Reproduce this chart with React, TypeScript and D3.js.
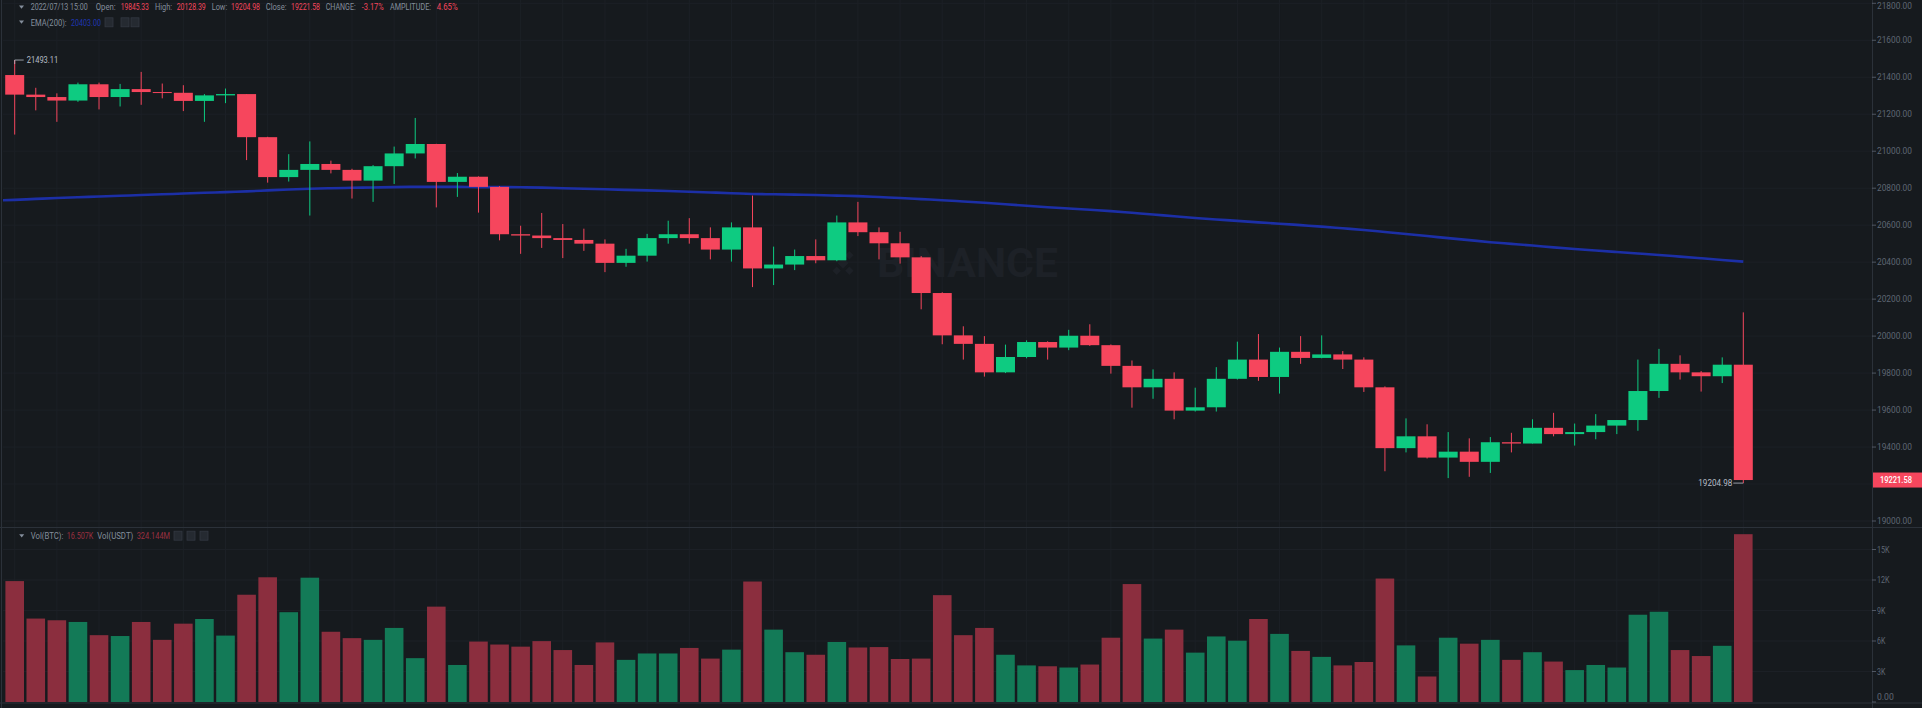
import React from "react";
import * as d3 from "d3";

// 1h candles BTC/USDT
const opens = [
  21412, 21306, 21293, 21274, 21362, 21293, 21336, 21320, 21316, 21272, 21302, 21309, 21076, 20860, 20899, 20931, 20899,
  20841, 20919, 20988, 21039, 20834, 20862, 20807, 20551, 20544, 20530, 20520, 20500, 20396, 20435, 20530, 20551, 20530,
  20468, 20588, 20366, 20387, 20433, 20410, 20615, 20562, 20502, 20426, 20233, 20004, 19958, 19804, 19887, 19968, 19938,
  20002, 19951, 19839, 19723, 19769, 19597, 19615, 19769, 19873, 19779, 19915, 19882, 19901, 19873, 19723, 19394, 19458,
  19343, 19375, 19320, 19426, 19419, 19504, 19470, 19481, 19516, 19546, 19703, 19850, 19804, 19783, 19845.33,
];
const highs = [
  21493.11, 21343, 21313, 21371, 21371, 21364, 21429, 21366, 21357, 21309, 21339, 21309, 21078, 20984, 21053, 20949, 20905,
  20925, 21025, 21180, 21040, 20882, 20864, 20811, 20597, 20666, 20606, 20581, 20523, 20472, 20553, 20624, 20638, 20588,
  20615, 20760, 20484, 20468, 20523, 20652, 20726, 20588, 20564, 20433, 20237, 20053, 20000, 19954, 19977, 19972, 20034,
  20064, 19955, 19868, 19820, 19804, 19721, 19832, 19970, 20011, 19938, 20000, 20004, 19919, 19885, 19728, 19555, 19523,
  19481, 19447, 19454, 19477, 19550, 19585, 19527, 19578, 19546, 19873, 19931, 19896, 19811, 19885, 20128.39,
];
const lows = [
  21090, 21221, 21159, 21267, 21226, 21242, 21251, 21286, 21217, 21159, 21260, 20952, 20830, 20836, 20652, 20880, 20744,
  20726, 20823, 20961, 20696, 20753, 20668, 20518, 20445, 20477, 20422, 20461, 20346, 20375, 20403, 20500, 20500, 20415,
  20403, 20265, 20276, 20357, 20394, 20405, 20541, 20415, 20392, 20145, 19956, 19873, 19781, 19800, 19880, 19873, 19924,
  19947, 19797, 19613, 19661, 19550, 19592, 19592, 19765, 19758, 19689, 19850, 19880, 19822, 19698, 19269, 19371, 19338,
  19232, 19239, 19260, 19371, 19419, 19458, 19408, 19442, 19470, 19488, 19666, 19765, 19700, 19746, 19204.98,
];
const closes = [
  21306, 21293, 21274, 21362, 21293, 21336, 21320, 21316, 21272, 21302, 21309, 21076, 20860, 20899, 20931, 20899, 20841,
  20919, 20988, 21039, 20834, 20862, 20807, 20551, 20544, 20530, 20520, 20500, 20396, 20435, 20530, 20551, 20530, 20468,
  20588, 20366, 20387, 20433, 20410, 20615, 20562, 20502, 20426, 20233, 20004, 19958, 19804, 19887, 19968, 19938, 20002,
  19951, 19839, 19723, 19769, 19597, 19615, 19769, 19873, 19779, 19915, 19882, 19901, 19873, 19723, 19394, 19458, 19343,
  19375, 19320, 19426, 19419, 19504, 19470, 19481, 19516, 19546, 19703, 19850, 19804, 19783, 19845.33, 19221.58,
];
const volumes = [
  11893, 8207, 8040, 7872, 6574, 6490, 7872, 6113, 7705, 8165, 6532, 10552, 12269, 8834, 12227, 6909, 6281, 6113, 7286,
  4312, 9380, 3642, 5946, 5653, 5444, 5988, 5109, 3642, 5862, 4145, 4773, 4773, 5318, 4270, 5151, 11851, 7118, 4898, 4647,
  5904, 5360, 5402, 4229, 4270, 10510, 6574, 7286, 4647, 3600, 3516, 3391, 3684, 6323, 11600, 6239, 7118, 4856, 6448, 6030,
  8165, 6699, 5025, 4438, 3600, 3935, 12143, 5569, 2509, 6323, 5737, 6113, 4145, 4898, 3977, 3139, 3642, 3391, 8584, 8877,
  5109, 4522, 5527, 16507,
];
// EMA(200); first value belongs to the candle just off the left edge
const ema200 = [
  20733, 20737, 20742, 20747, 20751, 20755, 20759, 20763, 20767, 20771, 20775, 20779, 20783, 20788, 20793, 20797, 20800,
  20802, 20804, 20806, 20807, 20807, 20807, 20806, 20806, 20805, 20803, 20800, 20797, 20794, 20791, 20788, 20785, 20781,
  20777, 20773, 20769, 20767, 20765, 20763, 20760, 20757, 20752, 20747, 20741, 20735, 20728, 20721, 20713, 20705, 20697,
  20690, 20683, 20676, 20667, 20658, 20648, 20639, 20631, 20623, 20615, 20608, 20600, 20592, 20583, 20574, 20563, 20552,
  20541, 20530, 20519, 20508, 20499, 20490, 20480, 20471, 20463, 20455, 20447, 20439, 20430, 20421, 20412, 20403,
];
const priceTicks = [19000, 19200, 19400, 19600, 19800, 20000, 20200, 20400, 20600, 20800, 21000, 21200, 21400, 21600, 21800];
const volTicks = [0, 3000, 6000, 9000, 12000, 15000];
const volTickLabels = ["0.00", "3K", "6K", "9K", "12K", "15K"];

const W = 1922;
const H = 708;
const AXIS_X = 1872;
const PANE_SPLIT = 527;
const VOL_BOTTOM = 702;
const SX = 0.68; // the legend font is condensed

const BG = "#161a1e";
const GRID = "#1c2026";
const LINE = "#2b3139";
const UP = "#0ecb81";
const DOWN = "#f6465d";
const VOL_UP = "#137a57";
const VOL_DOWN = "#8b2e3e";
const TEXT = "#848e9c";
const AXIS_TEXT = "#5e6673";
const FONT = "Roboto, 'Noto Sans', sans-serif";

const x = d3.scaleLinear().domain([0, closes.length - 1]).range([14.7, 1743.3]);
const y = d3.scaleLinear().domain([19000, 21800]).range([521, 3.3]);
const vy = d3.scaleLinear().domain([0, 15000]).range([VOL_BOTTOM, 549.5]);

// condensed text: squeezed horizontally so it fits the narrow legend font
const CText = ({ x: tx, y: ty, len, fill, size = 9, anchor = "start", weight = 400, children }) => (
  <text
    transform={`translate(${tx},${ty}) scale(${SX},1)`}
    fontSize={size}
    fill={fill}
    fontWeight={weight}
    textAnchor={anchor}
    textLength={len / SX}
    lengthAdjust="spacingAndGlyphs"
  >
    {children}
  </text>
);

const Triangle = ({ cx, cy }) => <path d={`M${cx - 2.5},${cy - 1.5} L${cx + 2.5},${cy - 1.5} L${cx},${cy + 1.8} Z`} fill={TEXT} />;

const Squares = ({ xs, cy }) => (
  <g>
    {xs.map((sx) => (
      <rect key={sx} x={sx} y={cy - 4.5} width={8} height={9} fill="#252a31" stroke="#323842" strokeWidth={0.8} />
    ))}
  </g>
);

export default function App() {
  const lastClose = closes[closes.length - 1];
  const lastIdx = closes.length - 1;
  const hiIdx = highs.indexOf(d3.max(highs));
  const loIdx = lows.indexOf(d3.min(lows));
  const emaLine = d3
    .line()
    .x((d, i) => x(i - 1))
    .y((d) => y(d))
    .curve(d3.curveMonotoneX);

  const header = [
    ["2022/07/13 15:00", TEXT, 30.7, 57],
    ["Open:", TEXT, 95.7, 20],
    [opens[lastIdx].toFixed(2), DOWN, 120.7, 28],
    ["High:", TEXT, 155, 17],
    [highs[lastIdx].toFixed(2), DOWN, 176.7, 29],
    ["Low:", TEXT, 211.7, 15.5],
    [lows[lastIdx].toFixed(2), DOWN, 231, 29],
    ["Close:", TEXT, 265.7, 21],
    [lastClose.toFixed(2), DOWN, 291, 29],
    ["CHANGE:", TEXT, 325.7, 30],
    ["-3.17%", DOWN, 361.7, 22],
    ["AMPLITUDE:", TEXT, 390, 41],
    ["4.65%", DOWN, 436.7, 21],
  ];

  const priceLabelY = y(lastClose);

  return (
    <div style={{ position: "fixed", left: 0, top: 0, width: W, height: H, background: BG }}>
      <svg width={W} height={H} style={{ display: "block", fontFamily: FONT }}>
        <rect x={0} y={0} width={W} height={H} fill={BG} />
        <defs>
          <clipPath id="plot">
            <rect x={3} y={0} width={AXIS_X - 3} height={PANE_SPLIT} />
          </clipPath>
        </defs>

        {/* grid */}
        {d3.range(0, closes.length, 2).map((i) => (
          <line key={"vg" + i} x1={x(i)} x2={x(i)} y1={0} y2={VOL_BOTTOM} stroke={GRID} strokeWidth={1} />
        ))}
        {priceTicks.map((t) => (
          <line key={"hg" + t} x1={3} x2={AXIS_X} y1={y(t)} y2={y(t)} stroke={GRID} />
        ))}
        {volTicks.slice(1).map((t) => (
          <line key={"vhg" + t} x1={3} x2={AXIS_X} y1={vy(t)} y2={vy(t)} stroke={GRID} />
        ))}

        {/* watermark */}
        <g fill="#1d2127">
          <g transform="translate(843,263) rotate(45)">
            <rect x={-4} y={-4} width={8} height={8} />
            <rect x={-13} y={-4} width={6} height={6} />
            <rect x={-4} y={-13} width={6} height={6} />
            <rect x={7} y={-2} width={6} height={6} />
            <rect x={-2} y={7} width={6} height={6} />
          </g>
          <text x={877} y={277} fontSize={40} fontWeight={700} textLength={181} lengthAdjust="spacingAndGlyphs">
            BINANCE
          </text>
        </g>

        {/* candles */}
        <g clipPath="url(#plot)">
          <path d={emaLine(ema200)} fill="none" stroke="#1c2fa6" strokeWidth={2.6} />
          {closes.map((c, i) => {
            const o = opens[i];
            const up = c >= o;
            const col = up ? UP : DOWN;
            const top = y(Math.max(o, c));
            const bot = y(Math.min(o, c));
            const cx = x(i);
            return (
              <g key={"c" + i}>
                <line x1={cx} x2={cx} y1={y(highs[i])} y2={y(lows[i])} stroke={col} strokeWidth={1} />
                <rect x={cx - 9.5} y={top} width={19} height={Math.max(1, bot - top)} fill={col} />
              </g>
            );
          })}
        </g>

        {/* high / low markers */}
        <path
          d={`M${x(hiIdx)},${y(highs[hiIdx]) + 4} V${y(highs[hiIdx])} H${x(hiIdx) + 9}`}
          fill="none"
          stroke="#b7bdc6"
          strokeWidth={0.8}
        />
        <CText x={x(hiIdx) + 12} y={y(highs[hiIdx]) + 3} len={31.6} fill="#b7bdc6" size={9.5}>
          {highs[hiIdx].toFixed(2)}
        </CText>
        <line x1={x(loIdx) - 10} x2={x(loIdx)} y1={y(lows[loIdx])} y2={y(lows[loIdx])} stroke="#b7bdc6" strokeWidth={0.8} />
        <CText x={x(loIdx) - 11} y={y(lows[loIdx]) + 3} len={34} fill="#b7bdc6" size={9.5} anchor="end">
          {lows[loIdx].toFixed(2)}
        </CText>

        {/* volume bars */}
        {volumes.map((v, i) => {
          const up = closes[i] >= opens[i];
          return (
            <rect
              key={"v" + i}
              x={x(i) - 9.3}
              y={vy(v)}
              width={18.6}
              height={VOL_BOTTOM - vy(v)}
              fill={up ? VOL_UP : VOL_DOWN}
            />
          );
        })}

        {/* frame */}
        <line x1={1.5} x2={1.5} y1={0} y2={H} stroke={LINE} />
        <line x1={0} x2={W} y1={PANE_SPLIT + 0.5} y2={PANE_SPLIT + 0.5} stroke={LINE} />
        <line x1={0} x2={W} y1={VOL_BOTTOM + 1} y2={VOL_BOTTOM + 1} stroke={LINE} />
        <line x1={AXIS_X + 0.5} x2={AXIS_X + 0.5} y1={0} y2={H} stroke={LINE} />

        {/* price axis: the tick hidden under the last price tag is not drawn */}
        {priceTicks
          .filter((t) => Math.abs(y(t) - priceLabelY) > 10)
          .map((t) => (
            <g key={"pt" + t}>
              <line x1={AXIS_X} x2={AXIS_X + 4} y1={y(t)} y2={y(t)} stroke={AXIS_TEXT} strokeWidth={0.8} />
              <CText x={AXIS_X + 5} y={Math.max(y(t) + 3, 8.5)} len={35} fill={AXIS_TEXT} size={9}>
                {t.toFixed(2)}
              </CText>
            </g>
          ))}
        <rect x={AXIS_X + 1} y={priceLabelY - 7.5} width={W - AXIS_X - 1} height={15} fill={DOWN} />
        <CText x={AXIS_X + 8} y={priceLabelY + 3} len={32} fill="#ffffff" size={9.5} weight={500}>
          {lastClose.toFixed(2)}
        </CText>

        {/* volume axis */}
        {volTicks.map((t, i) => (
          <g key={"vt" + t}>
            <line x1={AXIS_X} x2={AXIS_X + 4} y1={vy(t)} y2={vy(t)} stroke={AXIS_TEXT} strokeWidth={0.8} />
            <CText x={AXIS_X + 5} y={Math.min(vy(t) + 3, 700)} len={volTickLabels[i].length * 4.2} fill={AXIS_TEXT} size={9}>
              {volTickLabels[i]}
            </CText>
          </g>
        ))}

        {/* legends */}
        <Triangle cx={21.5} cy={7} />
        {header.map(([t, c, tx, len]) => (
          <CText key={t} x={tx} y={10} len={len} fill={c}>
            {t}
          </CText>
        ))}
        <Triangle cx={21.5} cy={22} />
        <CText x={30.7} y={25.5} len={36} fill={TEXT}>
          EMA(200):
        </CText>
        <CText x={71} y={25.5} len={30} fill="#1e36b0">
          {ema200[ema200.length - 1].toFixed(2)}
        </CText>
        <Squares xs={[105, 121, 131]} cy={22.3} />

        <Triangle cx={21.7} cy={535.7} />
        <CText x={30.7} y={539} len={32.6} fill={TEXT}>
          Vol(BTC):
        </CText>
        <CText x={66.7} y={539} len={26.6} fill="#9b3040">
          16.507K
        </CText>
        <CText x={97.3} y={539} len={36} fill={TEXT}>
          Vol(USDT)
        </CText>
        <CText x={136.7} y={539} len={33.3} fill="#9b3040">
          324.144M
        </CText>
        <Squares xs={[174, 187, 200]} cy={535.7} />
      </svg>
    </div>
  );
}
